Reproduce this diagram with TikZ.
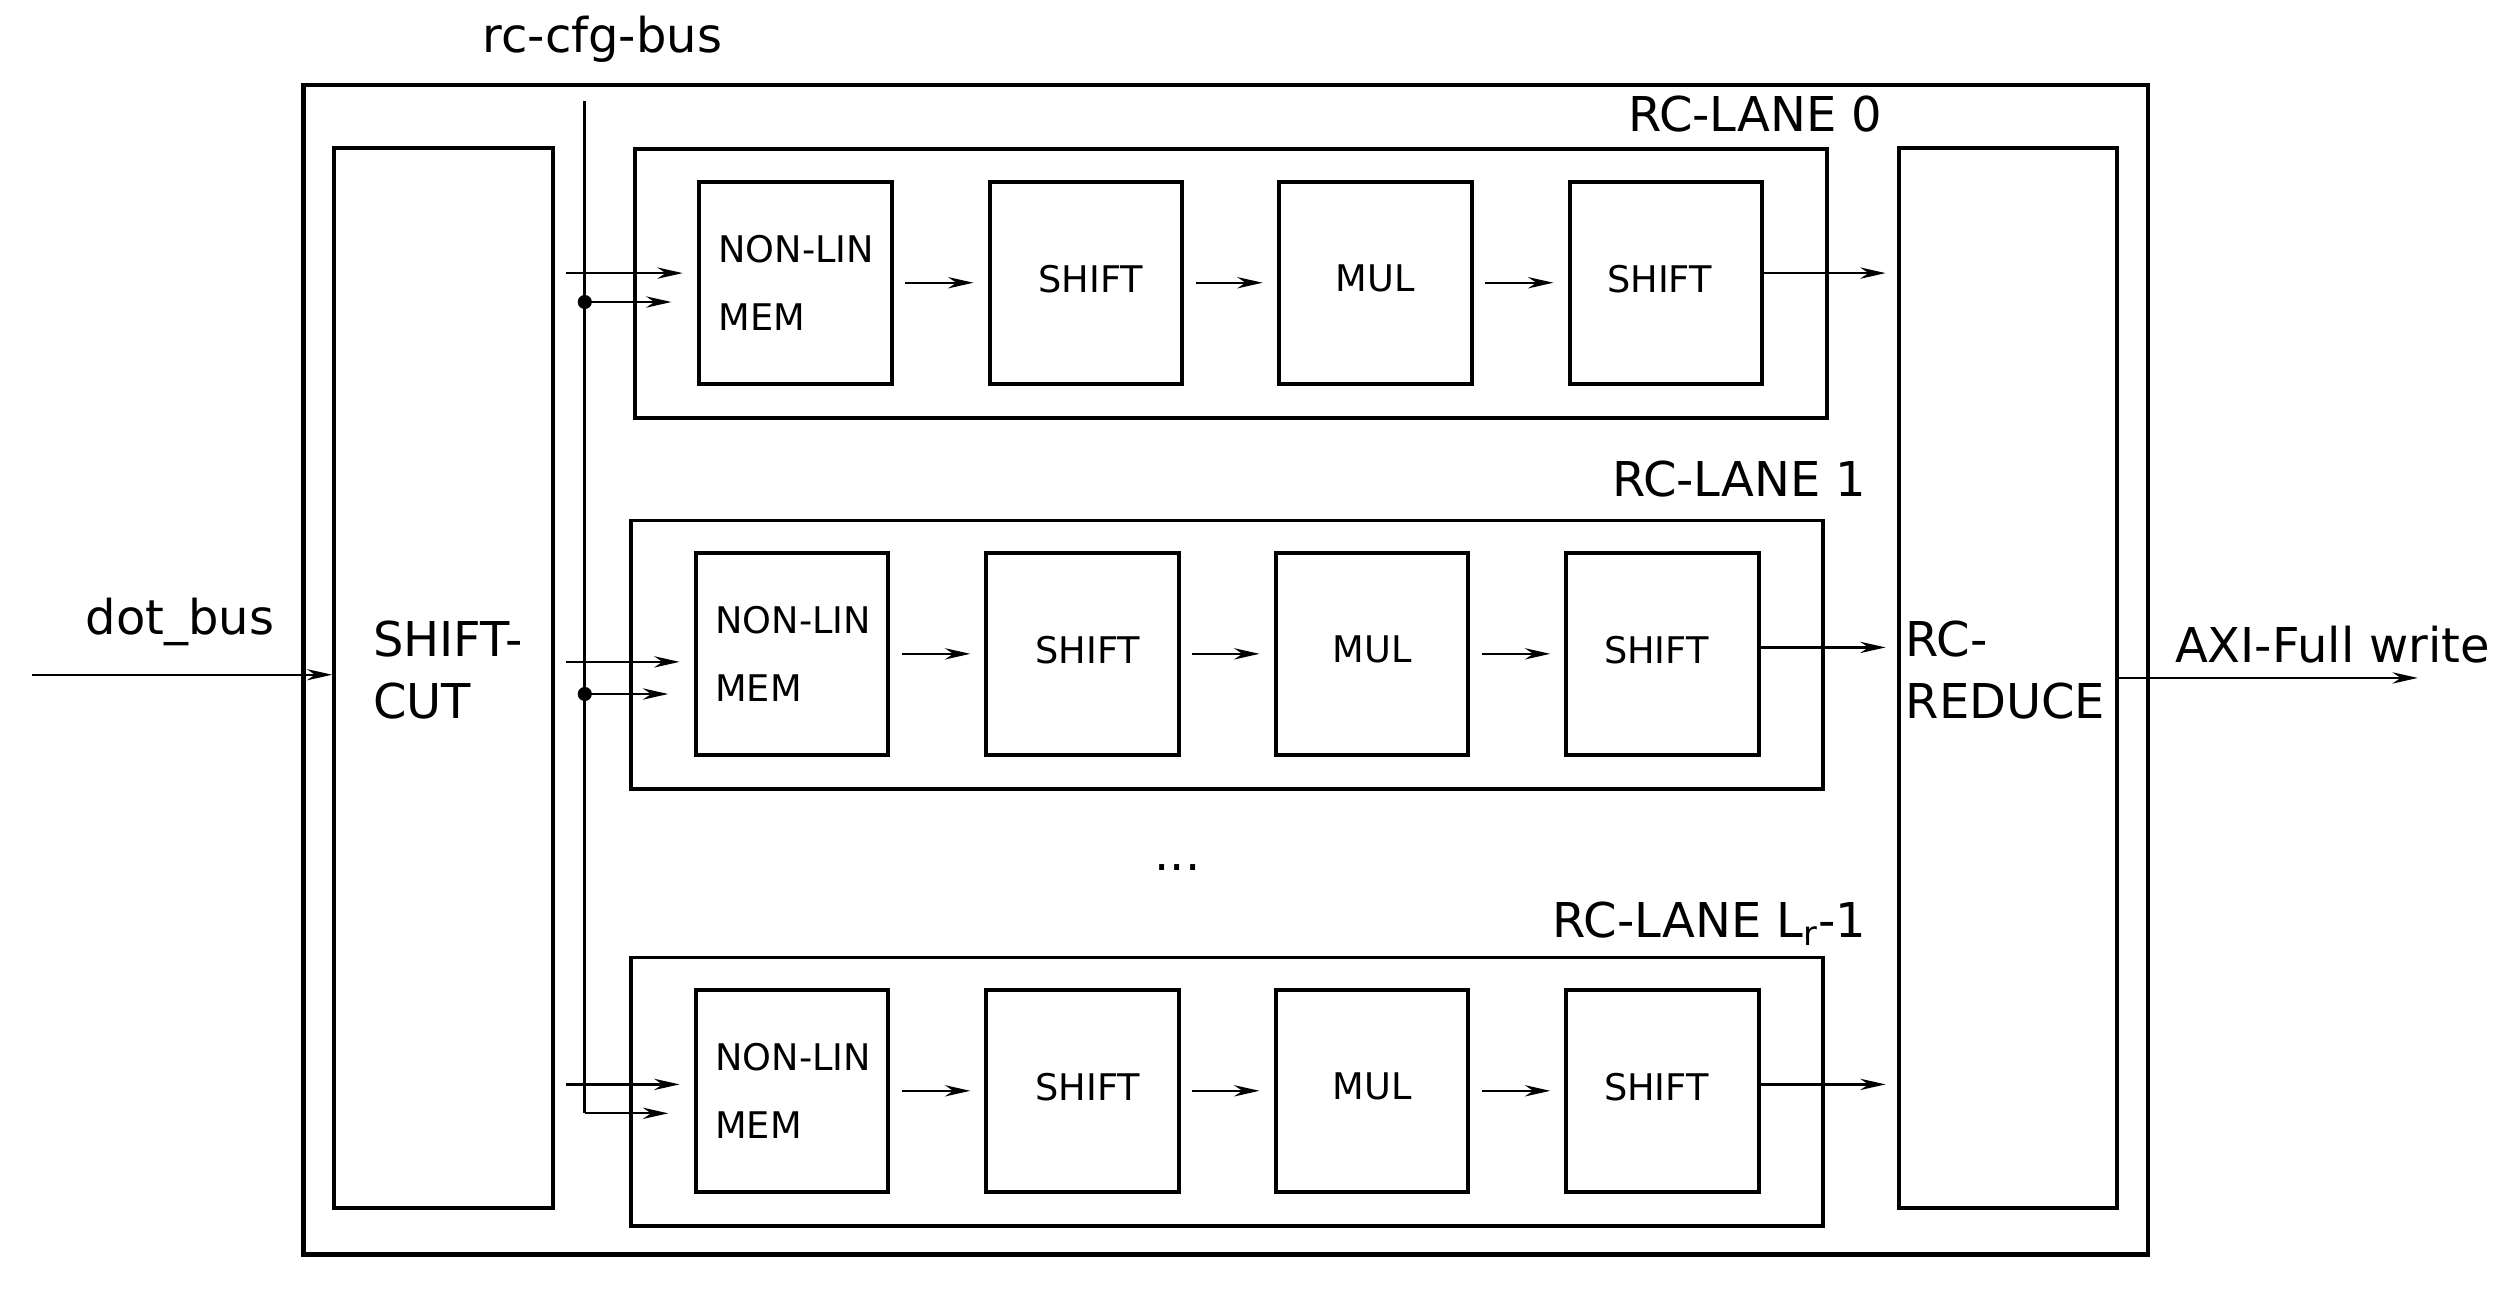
\documentclass[tikz,border=0pt]{standalone}
\usepackage{fontspec}
\setmainfont{DejaVu Sans}
\usetikzlibrary{fit,arrows.meta}
\begin{document}
\begin{tikzpicture}[x=0.02cm,y=-0.02cm,
  thick box/.style={draw,line width=1.6pt,inner sep=0pt},
  box/.style={draw,line width=1.4pt,inner sep=0pt},
  big/.style={font=\fontsize{17}{22}\selectfont},
  small/.style={font=\fontsize{13}{24}\selectfont},
  arr/.style={-{Stealth[length=9pt,width=4pt]},line width=0.8pt},
  dot/.style={circle,fill,inner sep=0pt,minimum size=5pt}]
\useasboundingbox (0,0) rectangle (1568,807);
\node[thick box,fit={(189,53)(1337,781)}] (frame) {};
\node[box,fit={(208,92)(344,752)}] (sc) {};
\node[big,anchor=west,align=left] (sct) at (226,417) {SHIFT-\\CUT};
\node[box,fit={(1182,92)(1318,752)}] (rr) {};
\node[big,anchor=west,align=left] (rrt) at (1180,417) {RC-\\REDUCE};
\coordinate (bustop) at (364,63);
\node[big,anchor=south] (buslbl) at (375,45) {rc-cfg-bus};
% lanes
\foreach \i/\lx/\ly/\ty/\tx/\txt/\ua/\ub/\ob/\bend in {
 0/395/93/71/1178/{RC-LANE 0}/170/188/170/0,
 1/393/324/298/1168/{RC-LANE 1}/412/432/403/0,
 2/393/596/575/1168/{RC-LANE L$_\mathrm{r}$-1}/675/693/675/1}{
  \pgfmathsetmacro{\ox}{\lx+40}
  \pgfmathsetmacro{\oy}{\ly+20}
  \node[box,fit={(\lx,\ly)(\lx+742,\ly+167)}] (lane\i) {};
  \node[big,anchor=east] (lt\i) at (\tx,\ty) {\txt};
  \node[box,fit={(\ox,\oy)(\ox+120,\oy+126)}] (a\i) {};
  \node[small,align=left,anchor=west] (at\i) at (\ox+6,\oy+63) {NON-LIN\\MEM};
  \node[box,fit={(\ox+181,\oy)(\ox+301,\oy+126)}] (b\i) {};
  \node[small] (bt\i) at (\ox+244,\oy+61) {SHIFT};
  \node[box,fit={(\ox+361,\oy)(\ox+481,\oy+126)}] (c\i) {};
  \node[small] (ct\i) at (\ox+421,\oy+60) {MUL};
  \node[box,fit={(\ox+542,\oy)(\ox+662,\oy+126)}] (d\i) {};
  \node[small] (dt\i) at (\ox+598,\oy+61) {SHIFT};
  \draw[arr,shorten <=4pt,shorten >=5pt] (a\i.east) -- (b\i.west);
  \draw[arr,shorten <=4pt,shorten >=5pt] (b\i.east) -- (c\i.west);
  \draw[arr,shorten <=4pt,shorten >=5pt] (c\i.east) -- (d\i.west);
  \draw[arr,shorten >=4pt] (d\i.east |- 0,\ob) -- (rr.west |- 0,\ob);
  \draw[arr,shorten <=4pt,shorten >=5pt] (sc.east |- 0,\ua) -- (a\i.west |- 0,\ua);
  \coordinate (j\i) at (364,\ub);
  \draw[arr,shorten >=9pt] (j\i) -- (a\i.west |- 0,\ub);
}
\node[dot] at (j0) {};
\node[dot] at (j1) {};
\draw[line width=1.2pt] (bustop) -- (j2);
\node[big] (dots) at (733,540) {...};
\coordinate (din) at (20,420);
\draw[arr] (din) -- (sc.west |- din);
\node[big] (dbl) at (112,387) {dot\_bus};
\coordinate (aout) at (1505,422);
\draw[arr] (rr.east |- aout) -- (aout);
\node[big] (axl) at (1452,401) {AXI-Full write};
\end{tikzpicture}
\end{document}
